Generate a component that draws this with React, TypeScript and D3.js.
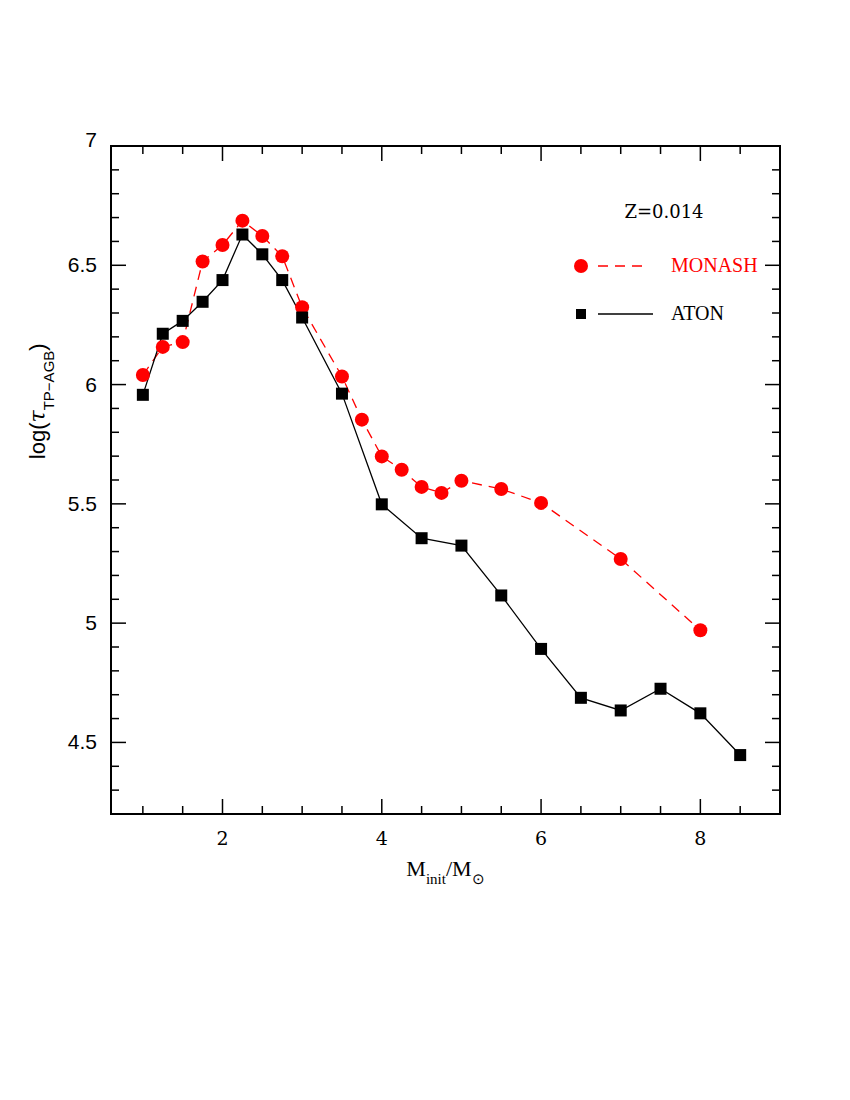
import React from 'react';
import * as d3 from 'd3';

// masses (Msun) and log lifetimes of the TP-AGB phase
const monashMass = [1, 1.25, 1.5, 1.75, 2, 2.25, 2.5, 2.75, 3, 3.5, 3.75, 4, 4.25, 4.5, 4.75, 5, 5.5, 6, 7, 8];
const monashLogT = [6.04, 6.158, 6.178, 6.516, 6.585, 6.687, 6.623, 6.538, 6.324, 6.034, 5.853, 5.699, 5.643, 5.571, 5.546, 5.597, 5.562, 5.504, 5.269, 4.97];

const atonMass = [1, 1.25, 1.5, 1.75, 2, 2.25, 2.5, 2.75, 3, 3.5, 4, 4.5, 5, 5.5, 6, 6.5, 7, 7.5, 8, 8.5];
const atonLogT = [5.957, 6.213, 6.267, 6.347, 6.438, 6.629, 6.546, 6.438, 6.281, 5.962, 5.498, 5.356, 5.325, 5.116, 4.892, 4.687, 4.634, 4.725, 4.622, 4.447];

const xTickLabels = [2, 4, 6, 8];
const yTickLabels = [4.5, 5, 5.5, 6, 6.5, 7];

const W = 850;
const H = 1100;
const margin = { left: 111, right: 70, top: 146, bottom: 286 };

export default function App() {
  const x = d3.scaleLinear().domain([0.6, 9]).range([margin.left, W - margin.right]);
  const y = d3.scaleLinear().domain([4.2, 7]).range([H - margin.bottom, margin.top]);

  const x0 = x.range()[0], x1 = x.range()[1];
  const y0 = y.range()[0], y1 = y.range()[1];

  const xMinor = d3.range(1, 9.01, 0.5).filter(v => Math.abs(v % 2) > 1e-6);
  const yMinor = d3.range(4.3, 7.0, 0.1).map(v => +v.toFixed(1)).filter(v => Math.abs((v * 2) % 1) > 1e-6);

  const line = d3.line<[number, number]>().x(d => x(d[0])).y(d => y(d[1]));
  const monash = monashMass.map((m, i) => [m, monashLogT[i]] as [number, number]);
  const aton = atonMass.map((m, i) => [m, atonLogT[i]] as [number, number]);

  const major = 15;
  const minor = 8;
  const serif = '"DejaVu Serif", "Liberation Serif", serif';
  const times = '"Liberation Serif", serif';
  const sans = '"Liberation Sans", Arial, sans-serif';

  return (
    <svg width={W} height={H} style={{ position: 'absolute', left: 0, top: 0, background: '#fff' }}>
      {/* ticks on all four sides */}
      <g stroke="#000" strokeWidth={1.5}>
        {xTickLabels.map(v => (
          <g key={'xM' + v}>
            <line x1={x(v)} x2={x(v)} y1={y0} y2={y0 - major} />
            <line x1={x(v)} x2={x(v)} y1={y1} y2={y1 + major} />
          </g>
        ))}
        {xMinor.map(v => (
          <g key={'xm' + v}>
            <line x1={x(v)} x2={x(v)} y1={y0} y2={y0 - minor} />
            <line x1={x(v)} x2={x(v)} y1={y1} y2={y1 + minor} />
          </g>
        ))}
        {yTickLabels.map(v => (
          <g key={'yM' + v}>
            <line x1={x0} x2={x0 + major} y1={y(v)} y2={y(v)} />
            <line x1={x1} x2={x1 - major} y1={y(v)} y2={y(v)} />
          </g>
        ))}
        {yMinor.map(v => (
          <g key={'ym' + v}>
            <line x1={x0} x2={x0 + minor} y1={y(v)} y2={y(v)} />
            <line x1={x1} x2={x1 - minor} y1={y(v)} y2={y(v)} />
          </g>
        ))}
      </g>
      <rect x={x0} y={y1} width={x1 - x0} height={y0 - y1} fill="none" stroke="#000" strokeWidth={2} />

      {/* tick labels */}
      {xTickLabels.map(v => (
        <text key={'xl' + v} x={x(v)} y={y0 + 31} textAnchor="middle" fontFamily={serif} fontSize={19}>{v}</text>
      ))}
      {yTickLabels.map(v => (
        <text key={'yl' + v} x={x0 - 14} y={y(v) + (v === 7 ? 1 : 7)} textAnchor="end" fontFamily={sans} fontSize={21}>{v}</text>
      ))}

      {/* axis titles */}
      <text x={(x0 + x1) / 2} y={y0 + 62} textAnchor="middle" fontFamily={times} fontSize={22}>
        M<tspan baselineShift="sub" fontSize={15}>init</tspan>/M<tspan baselineShift="sub" fontSize={15}>⊙</tspan>
      </text>
      <text transform={`translate(45, ${y(5.93)}) rotate(-90)`} textAnchor="middle" fontFamily={sans} fontSize={22}>
        log(<tspan fontFamily={serif} fontStyle="italic">τ</tspan><tspan baselineShift="sub" fontSize={15}>TP−AGB</tspan>)
      </text>

      {/* series */}
      <path d={line(monash) ?? ''} fill="none" stroke="#ff0000" strokeWidth={1.3} strokeDasharray="10,7" />
      <path d={line(aton) ?? ''} fill="none" stroke="#000" strokeWidth={1.3} />
      {monash.map(d => (
        <circle key={'c' + d[0]} cx={x(d[0])} cy={y(d[1])} r={7} fill="#ff0000" />
      ))}
      {aton.map(d => (
        <rect key={'s' + d[0]} x={x(d[0]) - 6} y={y(d[1]) - 6} width={12} height={12} fill="#000" />
      ))}

      {/* legend */}
      <text x={664} y={218} textAnchor="middle" fontFamily={serif} fontSize={18}>Z=0.014</text>
      <circle cx={581} cy={266} r={7} fill="#ff0000" />
      <line x1={598} x2={646} y1={266} y2={266} stroke="#ff0000" strokeWidth={1.3} strokeDasharray="10,7" />
      <text x={671} y={272} fontFamily={times} fontSize={20} fill="#ff0000">MONASH</text>
      <rect x={576} y={309} width={10} height={10} fill="#000" />
      <line x1={598} x2={653} y1={314} y2={314} stroke="#000" strokeWidth={1.3} />
      <text x={671} y={320} fontFamily={times} fontSize={20}>ATON</text>
    </svg>
  );
}
